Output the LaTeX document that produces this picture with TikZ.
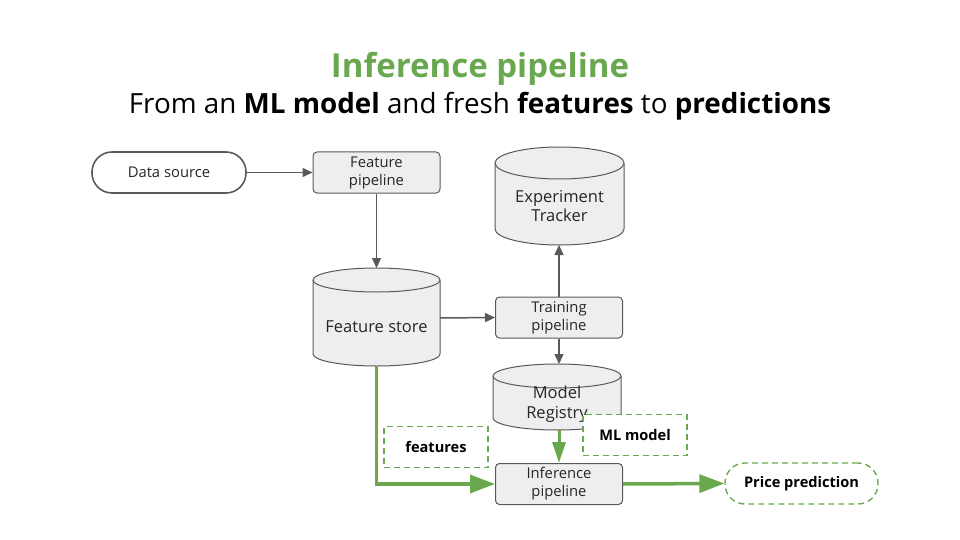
\documentclass[tikz,border=0pt]{standalone}
\usepackage{fontspec}
\setmainfont{Open Sans}
\usetikzlibrary{arrows.meta}
\definecolor{gline}{HTML}{595959}
\definecolor{gfill}{HTML}{EEEEEE}
\definecolor{ggreen}{HTML}{6AA84F}
\newcommand\cylshape[5]{%
  \pgfmathsetmacro\rx{(#3-#1)/2}%
  \filldraw[cylstyle] (#1,-#2-#5) -- (#1,-#4+#5) arc[start angle=180,end angle=360,x radius=\rx,y radius=#5] -- (#3,-#2-#5) arc[start angle=0,end angle=180,x radius=\rx,y radius=#5] -- cycle;
  \draw[cylstyle] (#1,-#2-#5) arc[start angle=180,end angle=360,x radius=\rx,y radius=#5];
}
\begin{document}
\begin{tikzpicture}[x=1pt,y=1pt,
  cylstyle/.style={draw=gline,fill=gfill,line width=1pt},
  procbox/.style={draw=gline,fill=gfill,line width=1pt,rounded corners=4pt,minimum width=127pt,minimum height=41pt,inner sep=0pt,align=center,font=\fontsize{14.8}{18}\selectfont,text=black!85},
  cyltext/.style={inner sep=0pt,align=center,font=\fontsize{16.5}{19.5}\selectfont,text=black!85},
  stadium/.style={draw=gline,line width=1.6pt,rounded corners=20pt,minimum width=154pt,minimum height=41pt,inner sep=0pt,font=\fontsize{14.8}{18}\selectfont,text=black!85},
  dstadium/.style={draw=ggreen,dash pattern=on 6pt off 4pt,line width=1.4pt,rounded corners=20pt,minimum width=153pt,minimum height=41pt,inner sep=0pt,font=\bfseries\fontsize{14.6}{18}\selectfont},
  dlabel/.style={draw=ggreen,dash pattern=on 6pt off 4pt,line width=1.4pt,fill=white,minimum width=104pt,minimum height=41pt,inner sep=0pt,font=\bfseries\fontsize{14.6}{18}\selectfont},
  garrow/.style={draw=gline,line width=1.5pt,-{Triangle[length=10pt,width=9pt]}},
  greenarrow/.style={draw=ggreen,line width=3.5pt,-{Triangle[length=25pt,width=18pt]}},
  greenarrowv/.style={draw=ggreen,line width=3pt,-{Triangle[length=21pt,width=13pt]}}
]
\useasboundingbox (0,0) rectangle (960,-540);
% titles
\node[anchor=base,inner sep=0pt,font=\bfseries\fontsize{33}{38}\selectfont,text=ggreen] (title) at (480,-78) {Inference pipeline};
\node[anchor=base,inner sep=0pt,font=\fontsize{27.8}{32}\selectfont] (subtitle) at (480,-114) {From an \textbf{ML model} and fresh \textbf{features} to \textbf{predictions}};
% cylinders
\cylshape{313}{268}{440}{366}{12}
\cylshape{495}{147}{624}{245}{16}
\cylshape{493}{364}{621}{430}{12}
\node[cyltext] (fstore) at (376.5,-327) {Feature store};
\node[cyltext] (tracker) at (559.5,-206) {Experiment\\Tracker};
\node[cyltext] (registry) at (557,-404) {Model\\Registry};
\coordinate (fstoreN) at (376.5,-268);
\coordinate (fstoreS) at (376.5,-366);
\coordinate (fstoreE) at (440,-318);
\coordinate (trackerS) at (559,-245);
\coordinate (registryN) at (559,-364);
\coordinate (registryS) at (559,-430);
% boxes
\node[stadium] (data) at (169,-172.5) {Data source};
\node[procbox] (fpipe) at (376.5,-172.5) {Feature\\pipeline};
\node[procbox] (tpipe) at (559,-317.5) {Training\\pipeline};
\node[procbox] (ipipe) at (559,-484) {Inference\\pipeline};
\node[dstadium] (price) at (801.5,-483.5) {Price prediction};
\node[dlabel] (mlmodel) at (635,-435) {ML model};
\node[dlabel,fill=none] (features) at (436,-447) {features};
% gray arrows
\draw[garrow] (data.east) -- (fpipe.west);
\draw[garrow] (fpipe.south) -- (fstoreN);
\draw[garrow] (fstoreE) -- (tpipe.west);
\draw[garrow] (tpipe.north) -- (trackerS);
\draw[garrow] (tpipe.south) -- (registryN);
% green arrows
\draw[greenarrow] (fstoreS) |- (ipipe.west);
\draw[greenarrowv] (registryS) -- (ipipe.north);
\draw[greenarrow] (ipipe.east) -- (price.west);
\end{tikzpicture}
\end{document}
